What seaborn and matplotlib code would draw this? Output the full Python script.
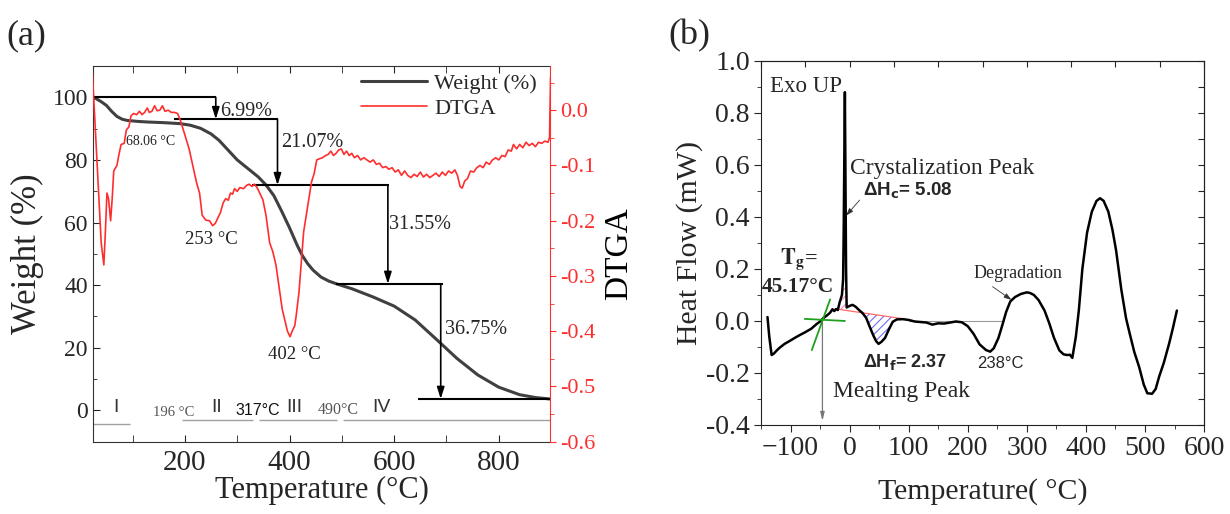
import numpy as np
import pandas as pd
import matplotlib
matplotlib.use("Agg")
import matplotlib.pyplot as plt
from matplotlib.ticker import MultipleLocator
from matplotlib.lines import Line2D
import seaborn as sns

# ---------------- TGA / DTGA data ----------------
weight_T = [23, 30, 40, 50, 60, 70, 80, 90, 110, 130, 160, 190, 210, 230, 250, 265,
            280, 300, 320, 340, 355, 370, 385, 400, 415, 425, 435, 445, 460, 475, 490,
            520, 560, 600, 640, 680, 720, 760, 800, 840, 870, 900]
weight_pct = [100, 99.6, 98.6, 97.4, 95.5, 93.9, 93.0, 92.6, 92.3, 92.1, 91.9, 91.6,
              91.1, 90.1, 88.3, 86.3, 83.6, 80.0, 77.3, 74.6, 72.0, 68.6, 63.6, 58.3,
              52.6, 49.3, 46.8, 44.8, 42.6, 41.3, 40.4, 38.8, 36.2, 33.3, 28.9, 22.8,
              16.6, 11.3, 7.4, 5.0, 4.1, 3.6]

dtga_T = [23, 28, 35, 40, 45, 48, 51, 54, 58, 61, 64, 70, 74, 78, 84, 88, 93, 97,
          102, 108, 113, 118, 123, 128, 132, 137, 142, 147, 152, 157, 162, 168, 174,
          180, 186, 192, 200, 208, 215, 222, 228, 233, 240, 247, 253, 258, 263, 268,
          273, 278, 283, 287, 291, 295, 300, 305, 312, 318, 323, 328, 333, 338, 343,
          349, 355, 362, 368, 374, 380, 386, 391, 396, 401, 405, 410, 413, 418, 422,
          427, 432, 437, 442, 447, 452, 457, 463, 469, 474, 479, 484, 489, 494, 499,
          504, 509, 514, 519, 524, 530, 536, 542, 548, 554, 560, 566, 572, 578, 584,
          590, 596, 602, 608, 614, 620, 626, 632, 638, 644, 650, 656, 662, 668, 674,
          680, 686, 692, 698, 704, 710, 716, 721, 726, 730, 735, 740, 746, 752, 758,
          764, 770, 776, 782, 788, 794, 800, 806, 812, 818, 824, 828, 834, 840, 846,
          852, 858, 864, 870, 876, 882, 888, 894, 897, 898, 899]
dtga_val = [0.07, -0.02, -0.15, -0.24, -0.28, -0.22, -0.15, -0.16, -0.20, -0.16,
            -0.11, -0.10, -0.08, -0.062, -0.06, -0.036, -0.03, -0.01, -0.006, -0.008,
            -0.002, -0.008, -0.004, 0.004, -0.004, -0.002, 0.008, -0.001, 0.0, 0.008,
            -0.002, 0.0, -0.004, -0.004, -0.006, -0.02, -0.045, -0.07, -0.10, -0.13,
            -0.15, -0.19, -0.199, -0.20, -0.209, -0.205, -0.195, -0.185, -0.168, -0.16,
            -0.163, -0.150, -0.152, -0.142, -0.147, -0.140, -0.142, -0.136, -0.134,
            -0.138, -0.134, -0.140, -0.150, -0.162, -0.19, -0.24, -0.256, -0.28, -0.32,
            -0.36, -0.38, -0.40, -0.41, -0.40, -0.39, -0.37, -0.33, -0.28, -0.22, -0.19,
            -0.16, -0.13, -0.115, -0.09, -0.088, -0.086, -0.082, -0.080, -0.074, -0.082,
            -0.078, -0.072, -0.070, -0.080, -0.074, -0.082, -0.078, -0.086, -0.082,
            -0.090, -0.086, -0.090, -0.094, -0.090, -0.098, -0.096, -0.104, -0.102,
            -0.107, -0.104, -0.112, -0.108, -0.118, -0.110, -0.118, -0.122, -0.116,
            -0.120, -0.112, -0.121, -0.116, -0.122, -0.118, -0.114, -0.120, -0.112,
            -0.118, -0.110, -0.114, -0.108, -0.118, -0.138, -0.141, -0.128, -0.124,
            -0.110, -0.112, -0.104, -0.100, -0.104, -0.094, -0.098, -0.090, -0.086,
            -0.090, -0.082, -0.084, -0.072, -0.074, -0.062, -0.070, -0.062, -0.068,
            -0.058, -0.064, -0.060, -0.066, -0.058, -0.060, -0.056, -0.058, -0.050,
            0.0, 0.06]

# mass-loss steps (%)
mass_losses = [6.99, 21.07, 31.55, 36.75]
dtga_peak_labels = ["68.06 °C", "253 °C", "402 °C"]
stage_names = ["I", "II", "III", "IV"]
stage_bounds = ["196 °C", "317°C", "490°C"]

# ---------------- DSC data ----------------
dsc_T = [-139, -136, -132, -128, -124, -118, -110, -100, -92, -85, -75, -65, -56,
         -50, -44, -38, -33, -29, -26, -23, -20, -17, -13, -11, -10, -9, -8, -7, -6,
         -5, 0, 5, 10, 17, 22, 28, 34, 40, 45, 49, 54, 60, 66, 73, 80, 90, 100, 110,
         120, 130, 140, 150, 160, 170, 180, 190, 200, 210, 220, 231, 238, 244, 252,
         258, 265, 272, 280, 290, 300, 305, 312, 320, 330, 338, 346, 355, 362, 368,
         373, 377, 383, 388, 394, 402, 410, 418, 424, 430, 438, 445, 451, 460, 468,
         474, 482, 490, 498, 504, 512, 518, 524, 532, 541, 547, 551, 554]
dsc_H = [0.015, -0.06, -0.131, -0.125, -0.115, -0.102, -0.088, -0.075, -0.064,
         -0.055, -0.043, -0.030, -0.012, -0.002, 0.012, 0.022, 0.032, 0.045, 0.038,
         0.046, 0.042, 0.070, 0.10, 0.16, 0.35, 0.62, 0.88, 0.55, 0.20, 0.052, 0.058,
         0.062, 0.055, 0.040, 0.030, 0.012, -0.022, -0.055, -0.078, -0.088, -0.080,
         -0.065, -0.035, -0.003, 0.006, 0.007, 0.004, -0.002, -0.004, -0.006, -0.014,
         -0.009, -0.010, -0.006, -0.002, -0.005, -0.020, -0.050, -0.090, -0.112,
         -0.118, -0.105, -0.065, -0.02, 0.035, 0.075, 0.092, 0.104, 0.110, 0.108,
         0.100, 0.080, 0.040, -0.009, -0.065, -0.113, -0.128, -0.131, -0.130, -0.142,
         -0.060, 0.040, 0.200, 0.340, 0.420, 0.462, 0.472, 0.462, 0.420, 0.350, 0.273,
         0.120, 0.010, -0.047, -0.120, -0.176, -0.245, -0.278, -0.280, -0.262, -0.214,
         -0.160, -0.086, -0.030, 0.010, 0.040]

# ---------------- style ----------------
sns.set_style("ticks")
plt.rcParams["font.family"] = ["Liberation Serif", "DejaVu Serif"]
plt.rcParams["hatch.linewidth"] = 0.8

fig = plt.figure(figsize=(12.3, 5.14), dpi=100)
ax = fig.add_axes([0.0759, 0.1407, 0.3713, 0.7309])
ax2 = ax.twinx()
axb = fig.add_axes([0.6187, 0.1732, 0.3602, 0.7082])

GRAY_CURVE = "#404040"
RED = "#ff2e2e"
SANS = ["Liberation Sans", "DejaVu Sans"]

# ---------------- panel (a) ----------------
tga = pd.DataFrame({"T": weight_T, "W": weight_pct})
dtg = pd.DataFrame({"T": dtga_T, "D": dtga_val})
sns.lineplot(data=tga, x="T", y="W", ax=ax, color=GRAY_CURVE, lw=2.2,
             estimator=None, sort=False, zorder=3)
sns.lineplot(data=dtg, x="T", y="D", ax=ax2, color=RED, lw=1.2,
             estimator=None, sort=False)

ax.set_xlim(25, 898)
ax.set_ylim(-10, 110)
ax2.set_ylim(-0.6, 0.08)
ax.xaxis.set_major_locator(MultipleLocator(200))
ax.xaxis.set_minor_locator(MultipleLocator(100))
ax.yaxis.set_major_locator(MultipleLocator(20))
ax.yaxis.set_minor_locator(MultipleLocator(10))
ax2.yaxis.set_major_locator(MultipleLocator(0.1))
ax2.yaxis.set_minor_locator(MultipleLocator(0.05))
ax2.yaxis.set_major_formatter(plt.FuncFormatter(lambda v, p: f"{v:.1f}".replace("-0.0", "0.0")))

ax.tick_params(axis="x", which="both", direction="in", top=True, labelsize=21, pad=6)
ax.tick_params(axis="x", which="major", length=5)
ax.tick_params(axis="x", which="minor", length=5)
ax.tick_params(axis="y", which="both", direction="in", labelsize=17, pad=4)
ax.tick_params(axis="y", which="major", length=5)
ax.tick_params(axis="y", which="minor", length=3)
ax2.tick_params(axis="y", which="both", direction="out", colors=RED, labelsize=16, pad=3)
ax2.tick_params(axis="y", which="major", length=4)
ax2.tick_params(axis="y", which="minor", length=3)
ax2.spines["right"].set_color(RED)
for sp in ["left", "top", "bottom"]:
    ax.spines[sp].set_color("#333333")
    ax2.spines[sp].set_visible(False)
ax.spines["right"].set_visible(False)

ax.set_xlabel("Temperature (°C)", fontsize=22, labelpad=0)
ax.set_ylabel("Weight (%)", fontsize=25, labelpad=6)
ax2.set_ylabel("DTGA", fontsize=24, labelpad=6, color="black")

# stepwise mass-loss annotations
levels = [100.0]
for loss in mass_losses:
    levels.append(round(levels[-1] - loss, 2))
hspans = [(25, 259), (180, 377), (329, 591), (489, 693), (645, 898)]
arrow_T = [259, 377, 588, 689]
loss_text_pos = [(268, 95.5), (383, 85.5), (590, 59.3), (697, 25.9)]
for lvl, (x0, x1) in zip(levels, hspans):
    ax.hlines(lvl, x0, x1, color="black", lw=1.5, zorder=4)
for i, loss in enumerate(mass_losses):
    ax.annotate("", xy=(arrow_T[i], levels[i + 1]), xytext=(arrow_T[i], levels[i]),
                arrowprops=dict(arrowstyle="-|>,head_width=0.22,head_length=0.7",
                                color="black", lw=1.2, shrinkA=0, shrinkB=0), zorder=4)
    tx, ty = loss_text_pos[i]
    ax.text(tx, ty, f"{loss:.2f}%", fontsize=14.5, ha="left", va="center", zorder=5)

# DTGA peak temperatures
ax.text(88, 86, dtga_peak_labels[0], fontsize=10, ha="left", va="center", color="#222222")
ax.text(250, 54.5, dtga_peak_labels[1], fontsize=13.5, ha="center", va="center", color="#222222")
ax.text(410, 17.8, dtga_peak_labels[2], fontsize=13.5, ha="center", va="center", color="#222222")

# decomposition stages
stage_spans = [(25, 96, -4.3), (194, 331, -3.2), (341, 491, -3.2), (503, 898, -3.2)]
stage_label_T = [69, 260, 410, 575]
for (x0, x1, yy) in stage_spans:
    ax.hlines(yy, x0, x1, color="#a0a0a0", lw=1.0, zorder=2)
for name, xt in zip(stage_names, stage_label_T):
    ax.text(xt, 0.8, name, fontsize=14, family=SANS, ha="center", va="center", color="#333333")
ax.text(179, -0.8, stage_bounds[0], fontsize=10.5, ha="center", va="center", color="#555555")
ax.text(340, 0.0, stage_bounds[1], fontsize=11.5, family=SANS, ha="center", va="center", color="#111111")
ax.text(494, 0.0, stage_bounds[2], fontsize=11.5, ha="center", va="center", color="#555555")

handles = [Line2D([], [], color=GRAY_CURVE, lw=2.2), Line2D([], [], color=RED, lw=1.2)]
for a in (ax, ax2):
    lg = a.get_legend()
    if lg is not None:
        lg.remove()
ax2.legend(handles, ["Weight (%)", "DTGA"], loc="upper right", bbox_to_anchor=(1.0, 1.015),
           frameon=False, fontsize=16, handlelength=3.0, handletextpad=0.3,
           labelspacing=0.2, borderaxespad=0.2)

fig.text(0.005, 0.93, "(a)", fontsize=26, ha="left", va="center")

# ---------------- panel (b) ----------------
dsc = pd.DataFrame({"T": dsc_T, "H": dsc_H})
sns.lineplot(data=dsc, x="T", y="H", ax=axb, color="black", lw=1.8,
             estimator=None, sort=False, zorder=3)
axb.set_xlim(-150, 600)
axb.set_ylim(-0.4, 1.0)
axb.xaxis.set_major_locator(MultipleLocator(100))
axb.xaxis.set_minor_locator(MultipleLocator(50))
axb.yaxis.set_major_locator(MultipleLocator(0.2))
axb.yaxis.set_minor_locator(MultipleLocator(0.1))
axb.yaxis.set_major_formatter(plt.FuncFormatter(lambda v, p: f"{v:.1f}".replace("-0.0", "0.0")))
axb.tick_params(axis="both", which="both", direction="out", labelsize=20)
axb.tick_params(axis="both", which="major", length=5, pad=3)
axb.tick_params(axis="both", which="minor", length=3)
for sp in axb.spines.values():
    sp.set_color("#222222")
axb.set_xlabel("Temperature( °C)", fontsize=21.5, labelpad=12)
axb.set_ylabel("Heat Flow (mW)", fontsize=21.5, labelpad=2)

# mirrored inward ticks on top and right
axb_top = axb.secondary_xaxis("top")
axb_top.xaxis.set_major_locator(MultipleLocator(75))
axb_top.tick_params(direction="in", length=4, labeltop=False)
axb_right = axb.secondary_yaxis("right")
axb_right.yaxis.set_major_locator(MultipleLocator(0.1))
axb_right.tick_params(direction="in", length=4, labelright=False)

# melting baseline and integrated areas
base_T = np.array([-22, 92])
base_H = np.array([0.046, 0.008])
axb.plot(base_T, base_H, color="#ff6a6a", lw=0.9, zorder=2)
Tg_fine = np.linspace(base_T[0], base_T[1], 400)
curve_fine = np.interp(Tg_fine, dsc_T, dsc_H)
base_fine = np.interp(Tg_fine, base_T, base_H)
axb.fill_between(Tg_fine, curve_fine, base_fine,
                 where=(curve_fine < base_fine) & (Tg_fine > 20),
                 facecolor="none", edgecolor="#6d6dff", hatch="////", lw=0, zorder=1)
axb.fill_between(Tg_fine, np.minimum(curve_fine, 0.14), base_fine,
                 where=(curve_fine > base_fine) & (Tg_fine < -3),
                 facecolor="none", edgecolor="#ff80c8", hatch="////", lw=0, zorder=1)

# glass transition construction
axb.plot([-76, -8], [0.008, 0.0], color="#1fa01f", lw=1.3, zorder=4)
axb.plot([-64, -33], [-0.112, 0.083], color="#1fa01f", lw=1.3, zorder=4)
axb.annotate("", xy=(-46, -0.385), xytext=(-46, 0.01),
             arrowprops=dict(arrowstyle="-|>,head_width=0.12,head_length=0.5",
                             color="#777777", lw=0.9, shrinkA=0, shrinkB=0), zorder=2)
axb.plot([100, 262], [0.0, 0.0], color="#999999", lw=0.8, zorder=2)

axb.text(-135, 0.90, "Exo UP", fontsize=16.5, ha="left", va="center")
axb.text(1.5, 0.587, "Crystalization Peak", fontsize=17, ha="left", va="center")
axb.text(22, 0.50, r"ΔH$_\mathbf{c}$= 5.08", fontsize=13.5, family=SANS, weight="bold",
         ha="left", va="center", math_fontfamily="dejavusans")
axb.annotate("", xy=(-6, 0.405), xytext=(17, 0.465),
             arrowprops=dict(arrowstyle="-|>,head_width=0.15,head_length=0.45",
                             color="#333333", lw=0.6, shrinkA=0, shrinkB=0))
axb.text(-118, 0.238, r"$\mathbf{T_g}$=", fontsize=16, weight="bold", ha="left",
         va="center", math_fontfamily="stix")
axb.text(-149, 0.13, "45.17°C", fontsize=15.5, weight="bold", ha="left", va="center")
axb.text(285, 0.183, "Degradation", fontsize=13, ha="center", va="center")
axb.annotate("", xy=(274, 0.081), xytext=(242, 0.132),
             arrowprops=dict(arrowstyle="-|>,head_width=0.15,head_length=0.45",
                             color="#333333", lw=0.6, shrinkA=0, shrinkB=0))
axb.text(23, -0.156, r"ΔH$_\mathbf{f}$= 2.37", fontsize=13, family=SANS, weight="bold",
         ha="left", va="center", math_fontfamily="dejavusans")
axb.text(255, -0.163, "238°C", fontsize=12, family=SANS, ha="center", va="center")
axb.text(-28, -0.272, "Mealting Peak", fontsize=17, ha="left", va="center")

fig.text(0.543, 0.93, "(b)", fontsize=26, ha="left", va="center")

fig.savefig("out.png", dpi=100)
